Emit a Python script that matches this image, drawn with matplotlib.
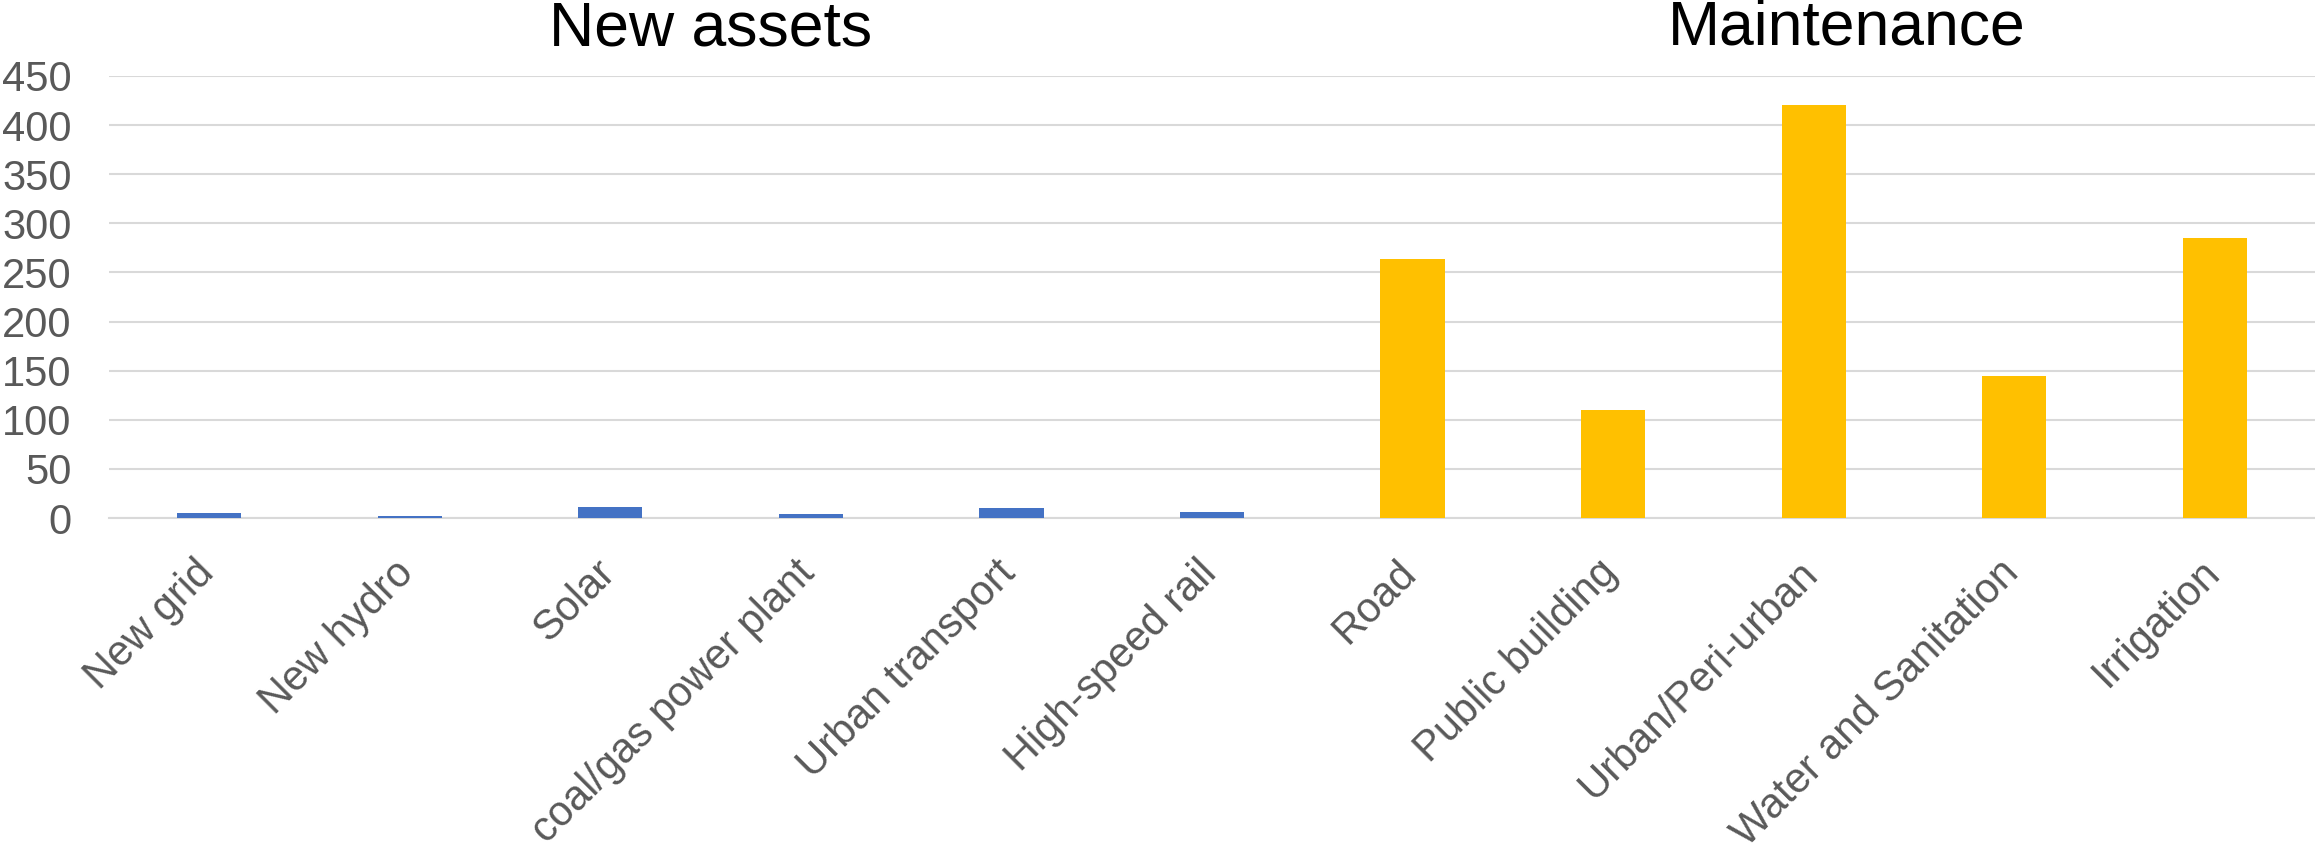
import matplotlib.pyplot as plt
import matplotlib.transforms as mtransforms
import numpy as np

plt.rcParams['font.family'] = ['Liberation Sans', 'DejaVu Sans']

# Investment by asset type
new_assets = ["New grid", "New hydro", "Solar", "coal/gas power plant",
              "Urban transport", "High-speed rail"]
new_values = [5, 2, 11, 4, 10, 6]
maintenance = ["Road", "Public building", "Urban/Peri-urban",
               "Water and Sanitation", "Irrigation"]
maint_values = [264, 110, 420, 145, 285]

labels = new_assets + maintenance
x_new = np.arange(len(new_assets))
x_maint = np.arange(len(new_assets), len(labels))

fig = plt.figure(figsize=(23.15, 8.51), dpi=100)
ax = fig.add_axes([0.0471, 0.3913, 0.9529, 0.5194])

bar_w = 0.32
ax.bar(x_new, new_values, width=bar_w, color="#4472C4", zorder=3)
ax.bar(x_maint, maint_values, width=bar_w, color="#FFC000", zorder=3)

ax.set_xlim(-0.5, len(labels) - 0.5)
ax.set_ylim(0, 450)
ax.set_yticks(np.arange(0, 451, 50))
ax.yaxis.grid(True, color="#D9D9D9", linewidth=1.5, zorder=0)

ax.set_xticks(np.arange(len(labels)))
ax.set_xticklabels(labels, rotation=45, ha="right", va="top",
                   rotation_mode="anchor")
ax.tick_params(axis="both", length=0, labelcolor="#595959")
ax.tick_params(axis="x", labelsize=30, pad=25)
ax.tick_params(axis="y", labelsize=30, pad=27)

# pull the slanted labels so their ends sit just right of the ticks
shift = mtransforms.ScaledTranslation(-16 / 100, 0, fig.dpi_scale_trans)
for lbl in ax.get_xticklabels():
    lbl.set_transform(lbl.get_transform() + shift)

for side in ["top", "right", "left"]:
    ax.spines[side].set_visible(False)
ax.spines["bottom"].set_color("#D9D9D9")
ax.spines["bottom"].set_linewidth(1.5)

# Group headings above the plot
trans = ax.get_xaxis_transform()
ax.text(x_new.mean(), 1.068, "New assets", transform=trans, ha="center",
        va="baseline", fontsize=45, color="black")
ax.text(x_maint.mean() + 0.165, 1.072, "Maintenance", transform=trans,
        ha="center", va="baseline", fontsize=45, color="black")

fig.savefig("out.png", dpi=100, facecolor="white")
